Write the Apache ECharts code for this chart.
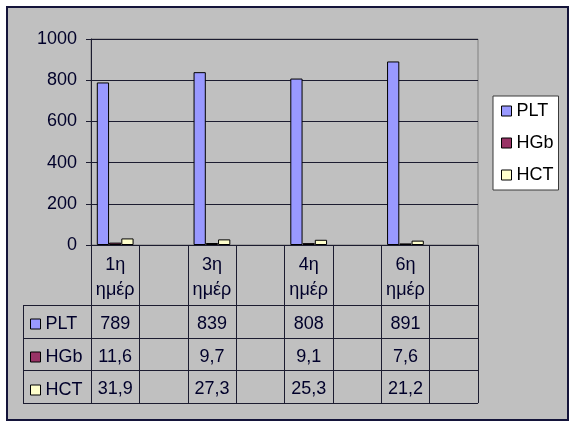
<!DOCTYPE html>
<html><head><meta charset="utf-8">
<script src="https://cdn.jsdelivr.net/npm/echarts@6/dist/echarts.min.js"></script>
<style>html,body{margin:0;padding:0;background:#fff}#c{width:575px;height:426px}</style>
</head><body><div id="c"></div>
<script>
// ---- data ----
const categories = ['1η\nημέρ', '', '3η\nημέρ', '', '4η\nημέρ', '', '6η\nημέρ', ''];
const seriesNames = ['PLT', 'HGb', 'HCT'];
const pltValues = [789, null, 839, null, 808, null, 891, null];
const hgbValues = [11.6, null, 9.7, null, 9.1, null, 7.6, null];
const hctValues = [31.9, null, 27.3, null, 25.3, null, 21.2, null];
const yMin = 0, yMax = 1000, yStep = 200;

// ---- style / layout ----
const colors = ['#9999ff', '#993366', '#ffffcc'];
const txt = '#00002a';
const lineCol = '#1c1c30';
const FONT = 'Liberation Sans, Arial, sans-serif';
const G = { left: 91, top: 39, right: 478, bottom: 245 };
const tableLeft = 23, tableTop = 305, rowH = 32.7, tableRows = 3;
const rowOffsets = [79, 112, 144];

const seriesData = [pltValues, hgbValues, hctValues];
const fmt = v => (v == null ? '' : String(v).replace('.', ','));

const chart = echarts.init(document.getElementById('c'));

const tableBottom = tableTop + rowH * tableRows;
const graphics = [
  { type: 'rect', z: -10, shape: { x: 7, y: 7, width: 561, height: 413 },
    style: { fill: '#c0c0c0', stroke: '#14143a', lineWidth: 2 } },
  { type: 'line', shape: { x1: tableLeft + 0.5, y1: tableTop, x2: tableLeft + 0.5, y2: tableBottom },
    style: { stroke: lineCol, lineWidth: 1 } }
];
for (let k = 0; k <= tableRows; k++) {
  const y = Math.round(tableTop + rowH * k) + 0.5;
  graphics.push({ type: 'line', shape: { x1: tableLeft, y1: y, x2: G.right, y2: y },
    style: { stroke: lineCol, lineWidth: 1 } });
}

const xAxes = [{
  type: 'category', data: categories, gridIndex: 0, position: 'bottom',
  axisLine: { show: true, lineStyle: { color: lineCol, width: 1 } },
  axisTick: { show: true, interval: 0, length: tableBottom - G.bottom, lineStyle: { color: lineCol, width: 1 } },
  axisLabel: { interval: 0, margin: 32.5, verticalAlign: 'middle', lineHeight: 25,
    fontSize: 18, fontFamily: FONT, color: txt }
}].concat(seriesData.map((vals, k) => ({
  type: 'category', data: categories, gridIndex: 0, position: 'bottom', offset: rowOffsets[k],
  axisLine: { show: false, onZero: false }, axisTick: { show: false }, splitLine: { show: false },
  axisLabel: { interval: 0, margin: 0, verticalAlign: 'middle', fontSize: 18, fontFamily: FONT, color: txt,
    formatter: (v, i) => fmt(vals[i]) }
})));

chart.setOption({
  backgroundColor: '#ffffff',
  animation: false,
  color: colors,
  grid: { left: G.left, top: G.top, width: G.right - G.left, height: G.bottom - G.top,
    show: true, borderColor: '#808080', borderWidth: 1, backgroundColor: 'transparent' },
  legend: [{
    orient: 'vertical', left: 493, top: 96, data: seriesNames,
    backgroundColor: '#ffffff', borderColor: '#3a3a3a', borderWidth: 1,
    padding: [5, 5, 5, 8], itemWidth: 10, itemHeight: 10, itemStyle: { borderColor: '#000', borderWidth: 1 },
    icon: 'rect', itemGap: 12, itemTextGap: 6,
    textStyle: { fontSize: 18, fontFamily: FONT, color: '#000', lineHeight: 20 },
    selectedMode: false
  }, {
    orient: 'vertical', left: 30, top: 314, data: seriesNames,
    padding: 0, itemWidth: 10, itemHeight: 10, itemStyle: { borderColor: '#000', borderWidth: 1 },
    icon: 'rect', itemGap: 13, itemTextGap: 6,
    textStyle: { fontSize: 18, fontFamily: FONT, color: txt, lineHeight: 20 },
    selectedMode: false
  }],
  xAxis: xAxes,
  yAxis: {
    type: 'value', min: yMin, max: yMax, interval: yStep,
    axisLine: { show: true, lineStyle: { color: lineCol, width: 1 } },
    axisTick: { show: true, length: 5, lineStyle: { color: lineCol } },
    splitLine: { show: true, lineStyle: { color: lineCol, width: 1 } },
    axisLabel: { margin: 14, fontSize: 18, fontFamily: FONT, color: txt, formatter: v => String(v) }
  },
  graphic: graphics,
  series: seriesNames.map((name, k) => ({
    name, type: 'bar', xAxisIndex: 0, yAxisIndex: 0, data: seriesData[k],
    barGap: '0%', barCategoryGap: '24%',
    itemStyle: { color: colors[k], borderColor: '#000', borderWidth: 1 }
  }))
});
</script></body></html>
